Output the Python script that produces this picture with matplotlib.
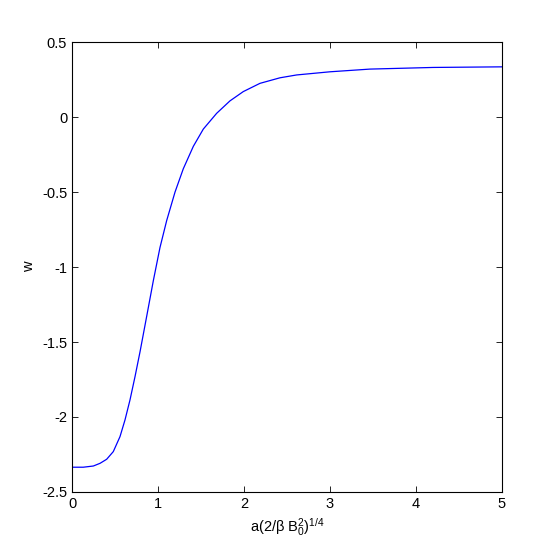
import numpy as np
import matplotlib.pyplot as plt

plt.rcParams['font.family'] = ['Liberation Sans', 'DejaVu Sans']
plt.rcParams['mathtext.fontset'] = 'custom'
plt.rcParams['mathtext.rm'] = 'Liberation Sans'
plt.rcParams['mathtext.it'] = 'Liberation Sans'
plt.rcParams['mathtext.bf'] = 'Liberation Sans'

# values
a = [0.0, 0.131, 0.248, 0.326, 0.403, 0.48, 0.558, 0.616, 0.674, 0.733,
     0.791, 0.868, 0.946, 1.023, 1.101, 1.198, 1.294, 1.411, 1.527, 1.682,
     1.837, 1.992, 2.186, 2.419, 2.613, 3.0, 3.465, 4.2, 5.0]
w = [-2.335, -2.335, -2.327, -2.309, -2.282, -2.231, -2.131, -2.02, -1.887,
     -1.73, -1.565, -1.33, -1.09, -0.87, -0.69, -0.5, -0.345, -0.195, -0.08,
     0.025, 0.108, 0.17, 0.225, 0.262, 0.281, 0.302, 0.32, 0.331, 0.335]

fig = plt.figure(figsize=(5.54, 5.54), dpi=100)
ax = fig.add_axes([0.130, 0.112, 0.776, 0.812])

ax.plot(a, w, color='#0000ff', linewidth=0.9)

ax.set_xlim(0, 5)
ax.set_ylim(-2.5, 0.5)
ax.set_xticks([0, 1, 2, 3, 4, 5])
ax.set_yticks([-2.5, -2, -1.5, -1, -0.5, 0, 0.5])
ax.set_yticklabels(['-2.5', '-2', '-1.5', '-1', '-0.5', '0', '0.5'])
ax.tick_params(direction='in', top=True, right=True, labelsize=10.5,
               length=4, width=0.6)
for s in ax.spines.values():
    s.set_linewidth(0.8)

ax.set_xlabel(r'a(2/$\beta$ B$_0^2$)$^{1/4}$', fontsize=10.5)
ax.set_ylabel('w', fontsize=10.5)

plt.savefig('out.png', dpi=100)
